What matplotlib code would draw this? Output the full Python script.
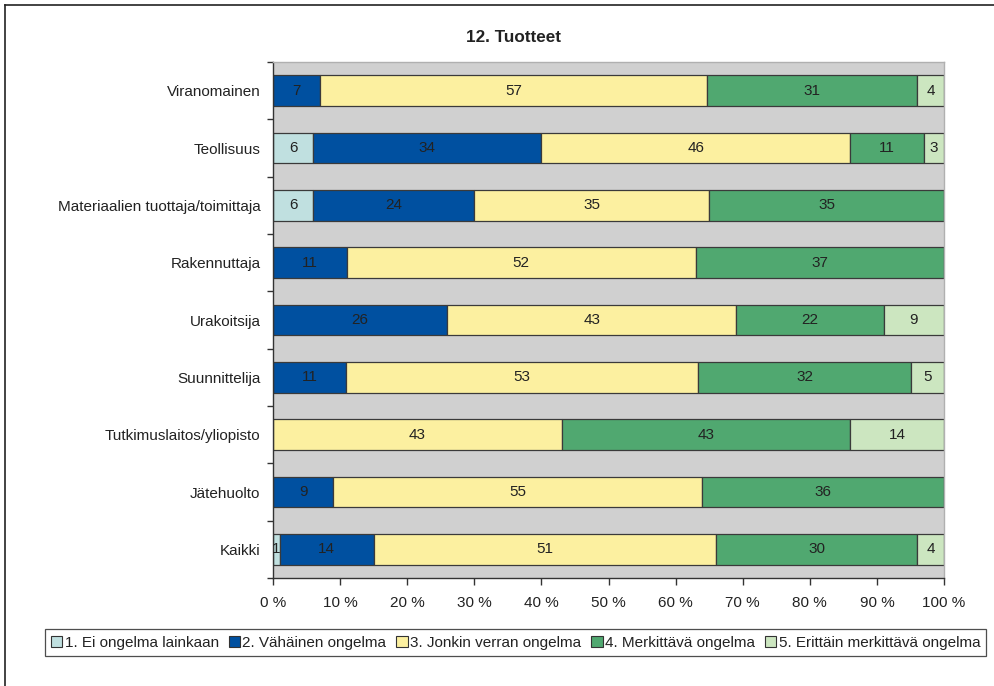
import numpy as np
import matplotlib
matplotlib.use("Agg")
import matplotlib.pyplot as plt
from matplotlib.lines import Line2D

plt.rcParams['font.family'] = ['Liberation Sans', 'DejaVu Sans']

# Data (rows top to bottom), values
categories = ['Viranomainen', 'Teollisuus', 'Materiaalien tuottaja/toimittaja',
              'Rakennuttaja', 'Urakoitsija', 'Suunnittelija',
              'Tutkimuslaitos/yliopisto', 'Jätehuolto', 'Kaikki']
ei_ongelmaa = [0, 6, 6, 0, 0, 0, 0, 0, 1]
vahainen = [7, 34, 24, 11, 26, 11, 0, 9, 14]
jonkin_verran = [57, 46, 35, 52, 43, 53, 43, 55, 51]
merkittava = [31, 11, 35, 37, 22, 32, 43, 36, 30]
erittain = [4, 3, 0, 0, 9, 5, 14, 0, 4]

series_names = ['1. Ei ongelma lainkaan', '2. Vähäinen ongelma',
                '3. Jonkin verran ongelma', '4. Merkittävä ongelma',
                '5. Erittäin merkittävä ongelma']
colors = ['#c0e0e0', '#0050a0', '#fcf0a0', '#50a870', '#cce6c0']
x_ticks = np.arange(0, 101, 10)

series = np.array([ei_ongelmaa, vahainen, jonkin_verran, merkittava, erittain], dtype=float)
pct = series / series.sum(axis=0) * 100

fs = 11

fig = plt.figure(figsize=(9.94, 6.86), dpi=100)
ax = fig.add_axes([273/994, 1-578/686, (944-273)/994, (578-62)/686])
ax.set_facecolor('#d0d0d0')

y = np.arange(len(categories))
left = np.zeros(len(categories))
for i in range(len(series)):
    ax.barh(y, pct[i], left=left, height=0.53, color=colors[i],
            edgecolor='#3a3a3a', linewidth=0.9, zorder=2)
    for j in range(len(categories)):
        if series[i, j] > 0:
            ax.text(left[j] + pct[i, j] / 2, y[j], f'{int(series[i, j])}',
                    ha='center', va='center', fontsize=fs, color='#222222', zorder=3)
    left += pct[i]

ax.set_xlim(0, 100)
ax.set_ylim(len(categories) - 0.5, -0.5)
ax.set_xticks(x_ticks)
ax.set_xticklabels([f'{t} %' for t in x_ticks], fontsize=fs, color='#222222')
ax.set_yticks(y)
ax.set_yticklabels(categories, fontsize=fs, color='#222222')
ax.tick_params(axis='y', length=0, pad=9)
ax.set_yticks(np.arange(-0.5, len(categories)), minor=True)
ax.tick_params(axis='y', which='minor', length=4, width=1, color='#333333', direction='out')
ax.tick_params(axis='x', length=5, width=1, color='#333333', direction='out', pad=8)

for s in ['left', 'bottom']:
    ax.spines[s].set_color('#333333')
    ax.spines[s].set_linewidth(1)
for s in ['top', 'right']:
    ax.spines[s].set_color('#b0b0b0')
    ax.spines[s].set_linewidth(1)

fig.text(514/994, 1-37/686, '12. Tuotteet', ha='center', va='center',
         fontsize=12.3, fontweight='bold', color='#222222')

handles = [plt.Rectangle((0, 0), 1, 1, facecolor=c, edgecolor='#333333', linewidth=0.8)
           for c in colors]
leg = fig.legend(handles, series_names, loc='center', ncol=5,
                 bbox_to_anchor=(515.5/994, 1-642.5/686), fontsize=fs,
                 frameon=True, fancybox=False, edgecolor='#222222',
                 handlelength=0.75, handleheight=0.75, handletextpad=0.15,
                 columnspacing=0.65, borderpad=0.4, borderaxespad=0)
leg.get_frame().set_linewidth(0.9)
for t in leg.get_texts():
    t.set_color('#222222')

# outer frame (only top and left edges visible)
fig.add_artist(Line2D([5/994, 1], [1-5/686, 1-5/686], color='#222222', linewidth=1.2))
fig.add_artist(Line2D([5/994, 5/994], [0, 1-5/686], color='#222222', linewidth=1.2))

fig.savefig('out.png', dpi=100)
